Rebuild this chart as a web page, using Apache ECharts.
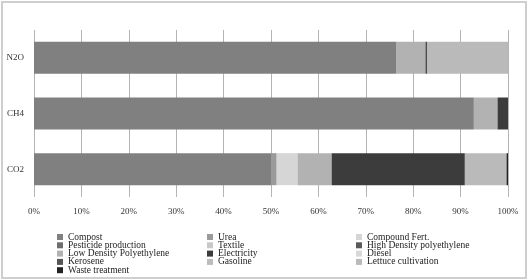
<!DOCTYPE html>
<html><head><meta charset="utf-8">
<script src="https://cdn.jsdelivr.net/npm/echarts@6/dist/echarts.min.js"></script>
<style>html,body{margin:0;padding:0;background:#fff}#c{width:529px;height:280px;position:relative}
#frame{position:absolute;left:1px;top:1px;width:522px;height:274px;border:2px solid #cfcfcf;pointer-events:none}</style>
</head><body><div id="c"></div>
<script>
const categories = ['CO2', 'CH4', 'N2O'];
const tickLabels = ['0%','10%','20%','30%','40%','50%','60%','70%','80%','90%','100%'];
const seriesNames = ['Compost','Urea','Compound Fert.','Pesticide production','Textile','High Density polyethylene','Low Density Polyethylene','Electricity','Diesel','Kerosene','Gasoline','Lettuce cultivation','Waste treatment'];
// values in percent, order: CO2, CH4, N2O
const compost = [50.1, 92.8, 76.5];
const urea = [1.1, 0, 0];
const compoundFert = [4.4, 0, 0];
const pesticide = [0, 0, 0];
const textile = [0, 0, 0];
const hdpe = [0, 0, 0];
const ldpe = [7.2, 5.0, 6.1];
const electricity = [28.1, 2.2, 0.3];
const diesel = [0, 0, 0];
const kerosene = [0, 0, 0];
const gasoline = [0, 0, 0];
const lettuce = [8.8, 0, 17.1];
const waste = [0.3, 0, 0];
const seriesValues = [compost, urea, compoundFert, pesticide, textile, hdpe, ldpe, electricity, diesel, kerosene, gasoline, lettuce, waste];
const colors = ['#808080','#9a9a9a','#d6d6d6','#6e6e6e','#c8c8c8','#5a5a5a','#b2b2b2','#3c3c3c','#d8d8d8','#555555','#bcbcbc','#bababa','#222222'];

const chart = echarts.init(document.getElementById('c'), null, {renderer:'canvas'});
const font = 'Liberation Serif';
const legendCols = [[0,3,6,9,12],[1,4,7,10],[2,5,8,11]];
const legendLeft = [57, 207, 356];
chart.setOption({
  animation: false,
  color: colors,
  grid: {left: 34, right: 21, top: 30, bottom: 83},
  xAxis: {
    type: 'value', min: 0, max: 100, interval: 10,
    axisLine: {show: false}, axisTick: {show: false},
    splitLine: {show: true, lineStyle: {color: '#b4b4b4', width: 1}},
    axisLabel: {formatter: v => tickLabels[Math.round(v/10)], fontFamily: font, fontSize: 9, color: '#333', margin: 10}
  },
  yAxis: {
    type: 'category', data: categories,
    axisLine: {show: false}, axisTick: {show: false},
    axisLabel: {fontFamily: font, fontSize: 9, color: '#333', margin: 10}
  },
  legend: legendCols.map((col, i) => ({
    orient: 'vertical', left: legendLeft[i], top: 232, height: 60,
    itemWidth: 6, itemHeight: 6, itemGap: -1.7,
    icon: 'rect',
    textStyle: {fontFamily: font, fontSize: 9.5, color: '#222'},
    padding: 0,
    data: col.map(k => seriesNames[k]),
    selectedMode: false
  })),
  series: seriesNames.map((n, i) => ({
    name: n, type: 'bar', stack: 'total', barWidth: 32,
    data: seriesValues[i],
    itemStyle: {color: colors[i]}
  }))
});
</script>
<div id="frame"></div>
</body></html>
